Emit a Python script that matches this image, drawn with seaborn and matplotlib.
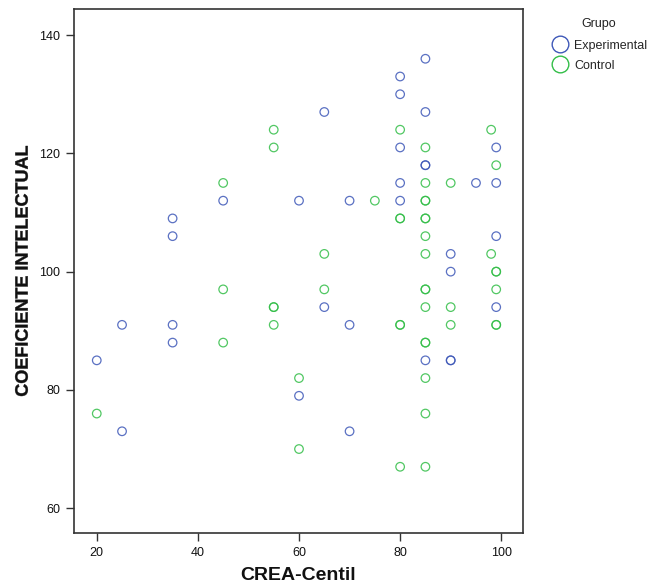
import numpy as np
import pandas as pd
import matplotlib
matplotlib.use("Agg")
import matplotlib.pyplot as plt
import seaborn as sns
from matplotlib.lines import Line2D
from matplotlib.textpath import TextPath
from matplotlib.patches import PathPatch
from matplotlib.font_manager import FontProperties
from matplotlib.transforms import Affine2D

# ------------------------------------------------------------
# Data (overplotted points listed twice)
# ------------------------------------------------------------
exp_crea = [20, 25, 25, 35, 35, 35, 35, 45, 60, 60, 65, 65, 70, 70, 70,
            80, 80, 80, 80, 80, 85, 85, 85, 85, 85, 90, 90, 90, 90,
            95, 99, 99, 99, 99]
exp_ci = [85, 91, 73, 109, 106, 91, 88, 112, 112, 79, 127, 94, 112, 91, 73,
          133, 130, 121, 115, 112, 136, 127, 118, 118, 85, 103, 100, 85, 85,
          115, 121, 115, 106, 94]

ctl_crea = [20, 45, 45, 45, 55, 55, 55, 55, 55, 60, 60, 65, 65, 75,
            80, 80, 80, 80, 80, 80,
            85, 85, 85, 85, 85, 85, 85, 85, 85, 85, 85, 85, 85, 85, 85, 85,
            90, 90, 90, 98, 98, 99, 99, 99, 99, 99, 99]
ctl_ci = [76, 115, 97, 88, 124, 121, 94, 94, 91, 82, 70, 103, 97, 112,
          124, 109, 109, 91, 91, 67,
          121, 115, 112, 112, 109, 109, 106, 103, 97, 97, 94, 88, 88, 82, 76, 67,
          115, 94, 91, 124, 103, 118, 100, 100, 97, 91, 91]

GROUPS = ["Experimental", "Control"]
COLORS = {"Experimental": "#3E58B8", "Control": "#33BE48"}

df = pd.DataFrame({
    "CREA-Centil": exp_crea + ctl_crea,
    "CI": exp_ci + ctl_ci,
    "Grupo": ["Experimental"] * len(exp_crea) + ["Control"] * len(ctl_crea),
})

# ------------------------------------------------------------
# Plot
# ------------------------------------------------------------
sns.set_style("white")
plt.rcParams["font.family"] = ["Liberation Sans", "DejaVu Sans"]

W, H = 663, 587
fig = plt.figure(figsize=(W / 100, H / 100), dpi=100)
ax = fig.add_axes([74 / W, 1 - 533 / H, 449 / W, 524.5 / H])

for g in GROUPS:
    sub = df[df["Grupo"] == g]
    sns.scatterplot(data=sub, x="CREA-Centil", y="CI", ax=ax,
                    marker="o", s=38, facecolor="none",
                    edgecolor=COLORS[g], linewidth=0.9, alpha=0.85,
                    legend=False)

ax.set_xlim(15.5, 104.3)
ax.set_ylim(55.8, 144.5)
ax.set_xticks([20, 40, 60, 80, 100])
ax.set_yticks([60, 80, 100, 120, 140])
ax.tick_params(axis="both", direction="out", length=6, width=1,
               color="#333333", labelsize=9, labelcolor="#111111", pad=4,
               bottom=True, left=True)
for sp in ax.spines.values():
    sp.set_color("#333333")
    sp.set_linewidth(1.2)

ax.set_xlabel("CREA-Centil", fontsize=14, fontweight="bold", labelpad=6,
              color="#111111")
ax.set_ylabel("")

# condensed bold y label: text path squeezed along its length
fp = FontProperties(family="Liberation Sans", weight="bold")
tp = TextPath((0, 0), "COEFICIENTE INTELECTUAL", size=18, prop=fp)
ext = tp.get_extents()
sx = 250 / ext.width
tr = (Affine2D()
      .translate(-(ext.x0 + ext.width / 2), -(ext.y0 + ext.height / 2))
      .scale(sx / 100, 1 / 100)
      .rotate_deg(90)
      .translate(21.5 / 100, (H - 271) / 100)
      + fig.dpi_scale_trans)
fig.add_artist(PathPatch(tp, transform=tr, facecolor="#111111",
                         edgecolor="#111111", linewidth=0.3))

handles = [Line2D([], [], marker="o", linestyle="none", markersize=12,
                  markerfacecolor="none", markeredgecolor=COLORS[g],
                  markeredgewidth=1) for g in GROUPS]
leg = fig.legend(handles, GROUPS, title="Grupo", loc="upper left",
                 bbox_to_anchor=(551 / W, 1 - 18 / H),
                 frameon=False, fontsize=9, title_fontsize=9,
                 handletextpad=0.45, borderaxespad=0, borderpad=0,
                 labelspacing=0.65, handlelength=1.4)
leg.get_title().set_color("#222222")
leg._legend_box.sep = 7

fig.savefig("out.png", dpi=100)
